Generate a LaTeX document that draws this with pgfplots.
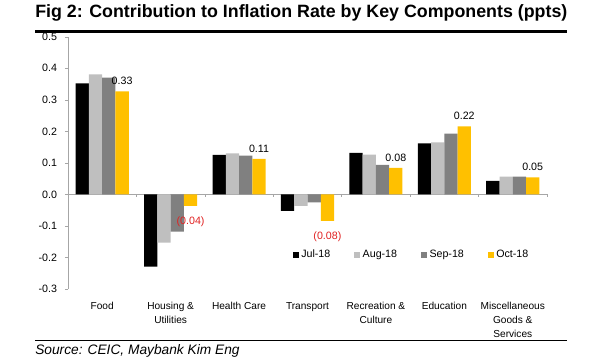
\documentclass[border=0pt]{standalone}
\usepackage{fontspec}
\setmainfont{Liberation Sans}
\usepackage{pgfplots}
\pgfplotsset{compat=1.18}
\definecolor{cJul}{HTML}{000000}
\definecolor{cAug}{HTML}{BFBFBF}
\definecolor{cSep}{HTML}{808080}
\definecolor{cOct}{HTML}{FFC000}
\definecolor{labred}{HTML}{E02020}
\definecolor{axgray}{HTML}{A6A6A6}
\begin{document}
\begin{tikzpicture}
\path[use as bounding box] (0,0) rectangle (450pt,270pt);
\node[anchor=west, inner sep=0pt] at (26.25pt,260.6pt) {\resizebox{399pt}{!}{\bfseries Fig 2: Contribution to Inflation Rate by Key Components (ppts)}};
\draw[line width=2.25pt] (26.25pt,246pt) -- (425.25pt,246pt);
\draw[line width=0.75pt] (26.25pt,14.25pt) -- (425.25pt,14.25pt);
\node[anchor=west, inner sep=0pt, font=\fontsize{10.3}{12}\selectfont\itshape] at (26.25pt,6.5pt) {Source: CEIC, Maybank Kim Eng};
\begin{axis}[
  at={(51pt,53.25pt)}, anchor=south west, scale only axis,
  width=359.25pt, height=189.2pt,
  xmin=-0.5, xmax=6.5, ymin=-0.3, ymax=0.5,
  ybar=0pt, bar width=0.194,
  axis lines=left, axis line style={-},
  x axis line style={draw=none},
  y axis line style={draw=axgray},
  ytick={-0.3,-0.2,-0.1,0,0.1,0.2,0.3,0.4,0.5},
  yticklabel style={font=\fontsize{8}{9.5}\selectfont, xshift=-2.5pt,
    /pgf/number format/.cd, fixed, fixed zerofill, precision=1, assume math mode=true},
  ytick style={draw=axgray},
  tick align=outside, major tick length=2.25pt,
  xtick={0,1,2,3,4,5,6},
  xtick style={draw=none},
  xticklabels={Food, {Housing \&\\Utilities}, Health Care, Transport, {Recreation \&\\Culture}, Education, {Miscellaneous\\Goods \&\\Services}},
  xticklabel style={align=center, font=\fontsize{7.6}{10.5}\selectfont, yshift=-4.25pt},
  legend columns=4,
  legend style={at={(0.4683,0.1348)}, anchor=west, draw=none, fill=none, inner sep=0pt,
    font=\fontsize{8}{9.5}\selectfont,
    /tikz/every even column/.append style={column sep=15.8pt}},
  legend image code/.code={\fill[#1] (0pt,-2.25pt) rectangle (4.5pt,2.25pt);},
  clip=false,
]
\draw[axgray] (axis cs:-0.5,0) -- (axis cs:6.5,0);
\pgfplotsinvokeforeach{0.5,1.5,2.5,3.5,4.5,5.5,6.5}{
  \draw[axgray] (axis cs:#1,0) -- ++(0pt,-2.25pt);
}
\addplot[fill=cJul, draw=none] coordinates {(0,0.352) (1,-0.229) (2,0.125) (3,-0.052) (4,0.132) (5,0.162) (6,0.043)};
\addplot[fill=cAug, draw=none] coordinates {(0,0.381) (1,-0.153) (2,0.130) (3,-0.036) (4,0.126) (5,0.165) (6,0.056)};
\addplot[fill=cSep, draw=none] coordinates {(0,0.370) (1,-0.118) (2,0.123) (3,-0.025) (4,0.094) (5,0.193) (6,0.056)};
\addplot[fill=cOct, draw=none, nodes near coords, point meta=explicit symbolic,
  visualization depends on={value \thisrow{anc} \as \myanchor},
  visualization depends on={value \thisrow{dy} \as \mydy},
  every node near coord/.append style={font=\fontsize{8}{9.5}\selectfont, inner sep=4.5pt, text=black, anchor=\myanchor, yshift=\mydy pt}]
  table[meta=lab] {
x y lab anc dy
0 0.327 0.33 south 0
1 -0.036 \textcolor{labred}{(0.04)} north -3.5
2 0.113 0.11 south 0
3 -0.084 \textcolor{labred}{(0.08)} north -3.5
4 0.084 0.08 south 0
5 0.216 0.22 south 0
6 0.054 0.05 south 0
};
\legend{Jul-18, Aug-18, Sep-18, Oct-18}
\end{axis}
\end{tikzpicture}
\end{document}
